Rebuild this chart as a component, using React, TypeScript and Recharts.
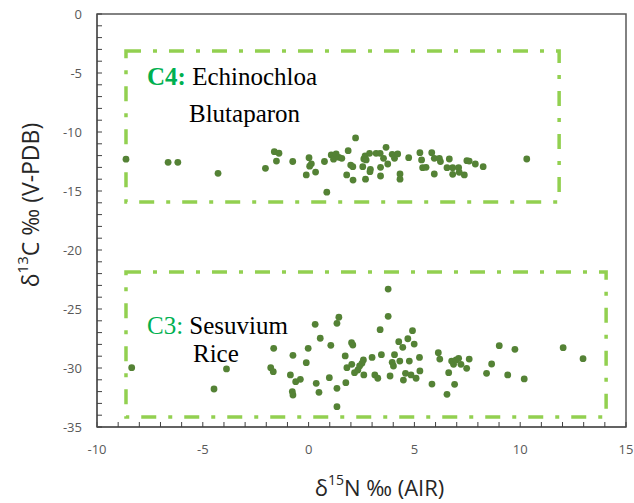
import React from 'react';
import { ScatterChart, Scatter, XAxis, YAxis, ReferenceArea } from 'recharts';

// δ15N (x) and δ13C (y) for C4 plants
const c4N = [-8.63, -6.64, -6.18, -4.28, -2.04, -1.62, -1.4, -1.52, -0.75, -0.11, 0.02, 0.13, 0.05, 0.33, 0.75, 0.86, 1.07, 1.18, 1.3, 1.43, 1.57, 1.87, 1.8, 1.99, 2.09, 2.1, 2.22, 2.56, 2.61, 2.67, 2.72, 2.88, 2.9, 2.92, 2.69, 3.19, 3.38, 3.4, 3.4, 3.54, 3.66, 3.74, 3.95, 4.06, 4.21, 4.32, 4.32, 4.73, 5.26, 5.34, 5.39, 5.55, 5.82, 5.94, 5.94, 6.18, 6.23, 6.54, 6.65, 6.81, 6.81, 7.09, 7.12, 7.36, 7.48, 7.59, 7.88, 8.25, 10.31];
const c4C = [-12.3, -12.57, -12.57, -13.5, -13.08, -11.67, -11.8, -12.46, -12.5, -13.64, -12.18, -12.7, -12.9, -13.4, -12.5, -15.1, -11.95, -12.3, -11.86, -12.15, -12.23, -11.58, -13.64, -12.8, -12.94, -14.07, -10.5, -12.94, -12.29, -12.03, -12.37, -11.81, -13.36, -13.16, -14.0, -11.81, -11.81, -13.73, -12.99, -12.23, -11.3, -12.71, -11.89, -12.23, -11.86, -13.56, -14.0, -12.18, -11.75, -12.37, -13.02, -12.99, -11.75, -13.56, -12.23, -12.23, -12.51, -13.02, -12.29, -13.02, -13.59, -13.02, -13.42, -13.64, -12.43, -12.46, -12.71, -12.94, -12.29];

// δ15N (x) and δ13C (y) for C3 plants
const c3N = [-8.36, -4.47, -3.88, -1.79, -1.67, -1.65, -0.86, -0.74, -0.77, -0.74, -0.61, -0.39, -0.11, -0.02, 0.31, 0.36, 0.49, 0.55, 0.98, 1.05, 1.34, 1.43, 1.34, 1.34, 1.73, 1.76, 1.81, 2.03, 2.09, 2.04, 2.17, 2.33, 2.41, 2.52, 2.59, 2.61, 3.0, 3.13, 3.27, 3.38, 3.44, 3.76, 3.76, 3.85, 3.95, 4.01, 4.06, 4.26, 4.31, 4.45, 4.48, 4.58, 4.69, 4.76, 4.84, 4.91, 4.99, 5.08, 5.24, 5.26, 5.83, 6.13, 6.2, 6.54, 6.62, 6.76, 6.85, 6.9, 6.97, 7.09, 7.2, 7.47, 7.59, 8.41, 8.65, 9.01, 9.41, 9.75, 10.19, 12.03, 12.97];
const c3C = [-29.97, -31.78, -30.08, -29.97, -30.31, -28.33, -30.59, -28.93, -32.0, -32.29, -31.16, -30.96, -29.55, -28.33, -26.3, -31.3, -32.06, -27.48, -30.82, -28.08, -26.21, -25.7, -31.72, -33.28, -28.98, -31.24, -29.97, -27.86, -28.05, -29.69, -30.4, -30.17, -29.83, -29.6, -29.32, -30.59, -29.1, -30.59, -30.87, -26.75, -28.87, -23.31, -25.62, -30.68, -29.52, -29.83, -28.87, -27.77, -29.41, -28.25, -31.02, -30.45, -27.52, -29.41, -30.59, -26.84, -27.97, -30.87, -29.1, -30.25, -31.36, -28.7, -29.24, -32.23, -30.4, -29.41, -29.69, -31.38, -29.32, -29.18, -29.69, -30.03, -29.24, -30.45, -29.66, -28.11, -30.59, -28.42, -30.93, -28.28, -29.21];

// Group boxes: [x1, x2, y1, y2]
const c4Box = [-8.63, 11.84, -3.14, -15.93];
const c3Box = [-8.63, 14.06, -21.86, -34.15];

const xTicks = [-10, -9, -8, -7, -6, -5, -4, -3, -2, -1, 0, 1, 2, 3, 4, 5, 6, 7, 8, 9, 10, 11, 12, 13, 14, 15];
const yTicks = [-35, -34, -33, -32, -31, -30, -29, -28, -27, -26, -25, -24, -23, -22, -21, -20, -19, -18, -17, -16, -15, -14, -13, -12, -11, -10, -9, -8, -7, -6, -5, -4, -3, -2, -1, 0];

const c4Data = c4N.map((n, i) => ({ n, c: c4C[i] }));
const c3Data = c3N.map((n, i) => ({ n, c: c3C[i] }));

const AXIS = '#595959';
const TICK_FONT = '"Open Sans", sans-serif';
const TITLE_FONT = '"Open Sans", "DejaVu Sans", sans-serif';
const BOX = '#92D050';
const DOT = '#548235';
const LABEL_GREEN = '#00B050';
const TICK_LEN = 5;

// With an inward tick of length TICK_LEN, Recharts places x/y at the inner tick end.
const XTick = (props: any) => {
  const { x, y, payload } = props;
  const v = payload.value;
  if (v % 5 !== 0) return <g />;
  return (
    <text x={x} y={y + TICK_LEN + 22} textAnchor="middle" dominantBaseline="central" fontFamily={TICK_FONT} fontSize={13} fill={AXIS}>
      {v}
    </text>
  );
};

const YTick = (props: any) => {
  const { x, y, payload } = props;
  const v = payload.value;
  if (v % 5 !== 0) return <g />;
  return (
    <text x={x - TICK_LEN - 15} y={y} textAnchor="end" dominantBaseline="central" fontFamily={TICK_FONT} fontSize={13} fill={AXIS}>
      {v}
    </text>
  );
};

const YTitle = (props: any) => {
  const vb = props.viewBox || { x: 0, y: 14, width: 97, height: 413 };
  const cx = vb.x + 30;
  const cy = 205;
  return (
    <text x={cx} y={cy} transform={`rotate(-90 ${cx} ${cy})`} textAnchor="middle" dominantBaseline="central" fontFamily={TITLE_FONT} fontSize={23} fill="#262626">
      <tspan>δ</tspan>
      <tspan dy={-8} fontSize={15}>13</tspan>
      <tspan dy={8}>C ‰ (V-PDB)</tspan>
    </text>
  );
};

const XTitle = (props: any) => {
  const vb = props.viewBox || { x: 97, y: 427, width: 529, height: 76 };
  const cx = vb.x + vb.width / 2 + 18;
  const cy = vb.y + 60;
  return (
    <text x={cx} y={cy} textAnchor="middle" dominantBaseline="central" fontFamily={TITLE_FONT} fontSize={22} fill="#262626">
      <tspan>δ</tspan>
      <tspan dy={-8} fontSize={14}>15</tspan>
      <tspan dy={8}>N ‰ (AIR)</tspan>
    </text>
  );
};

const SERIF = '"Liberation Serif", "Times New Roman", serif';

const C4Label = (props: any) => {
  const { x, y } = props.viewBox;
  return (
    <g>
      <text x={x + 21} y={y + 34} fontFamily={SERIF} fontSize={25} fill="#000">
        <tspan fill={LABEL_GREEN} fontWeight="bold">C4:</tspan>
        <tspan> Echinochloa</tspan>
      </text>
      <text x={x + 63} y={y + 71} fontFamily={SERIF} fontSize={25} fill="#000">Blutaparon</text>
    </g>
  );
};

const C3Label = (props: any) => {
  const { x, y } = props.viewBox;
  return (
    <g>
      <text x={x + 21} y={y + 62} fontFamily={SERIF} fontSize={25} fill="#000">
        <tspan fill={LABEL_GREEN}>C3:</tspan>
        <tspan> Sesuvium</tspan>
      </text>
      <text x={x + 67} y={y + 90} fontFamily={SERIF} fontSize={25} fill="#000">Rice</text>
    </g>
  );
};

const Dot = (props: any) => <circle cx={props.cx} cy={props.cy} r={3.4} fill={DOT} />;

export default function App() {
  return (
    <div style={{ position: 'absolute', left: 0, top: 0, background: '#fff' }}>
      <ScatterChart width={634} height={503} margin={{ top: 14, right: 8, bottom: 0, left: 0 }}>
        <XAxis
          type="number"
          dataKey="n"
          domain={[-10, 15]}
          ticks={xTicks}
          interval={0}
          tickSize={-TICK_LEN}
          tickMargin={0}
          tickLine={{ stroke: '#404040', strokeWidth: 1 }}
          tick={<XTick />}
          height={76}
          axisLine={{ stroke: AXIS, strokeWidth: 1.5 }}
          label={<XTitle />}
        />
        <YAxis
          type="number"
          dataKey="c"
          domain={[-35, 0]}
          ticks={yTicks}
          interval={0}
          tickSize={-TICK_LEN}
          tickMargin={0}
          tickLine={{ stroke: '#404040', strokeWidth: 1 }}
          tick={<YTick />}
          width={97}
          axisLine={{ stroke: AXIS, strokeWidth: 1.5 }}
          label={<YTitle />}
        />
        <ReferenceArea x1={-10} x2={15} y1={-35} y2={0} fill="none" stroke={AXIS} strokeWidth={1.5} ifOverflow="visible" />
        <ReferenceArea
          x1={c4Box[0]}
          x2={c4Box[1]}
          y1={c4Box[2]}
          y2={c4Box[3]}
          fill="none"
          fillOpacity={0}
          stroke={BOX}
          strokeWidth={3.5}
          strokeDasharray="15 12 4 12"
          ifOverflow="visible"
          label={<C4Label />}
        />
        <ReferenceArea
          x1={c3Box[0]}
          x2={c3Box[1]}
          y1={c3Box[2]}
          y2={c3Box[3]}
          fill="none"
          fillOpacity={0}
          stroke={BOX}
          strokeWidth={3.5}
          strokeDasharray="15 12 4 12"
          ifOverflow="visible"
          label={<C3Label />}
        />
        <Scatter data={c4Data} fill={DOT} shape={<Dot />} isAnimationActive={false} />
        <Scatter data={c3Data} fill={DOT} shape={<Dot />} isAnimationActive={false} />
      </ScatterChart>
    </div>
  );
}
